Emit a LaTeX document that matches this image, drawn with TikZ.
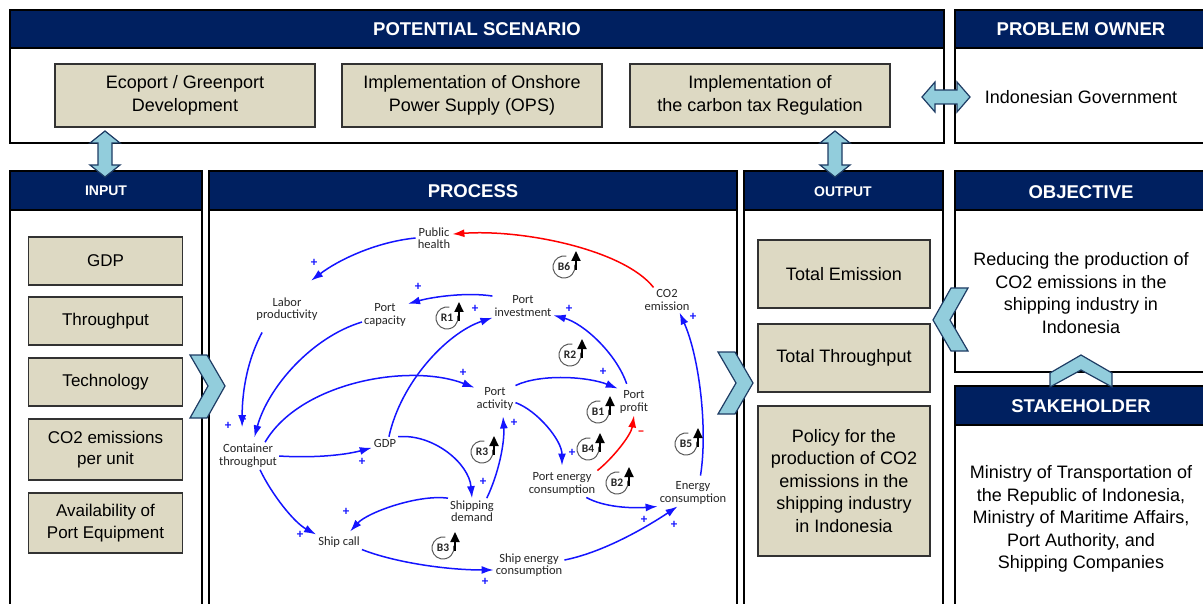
\documentclass[tikz,border=0pt]{standalone}
\usepackage{fontspec}
\setmainfont{Liberation Sans}
\newfontfamily\calib{Carlito}
\usetikzlibrary{arrows.meta,calc}
\definecolor{navy}{RGB}{0,32,96}
\definecolor{tan}{RGB}{221,217,195}
\definecolor{lblue}{RGB}{146,205,220}
\definecolor{dblue}{RGB}{30,60,100}
\definecolor{boxline}{RGB}{50,50,50}
\definecolor{cldblue}{RGB}{20,20,255}
\definecolor{cldred}{RGB}{255,0,0}
\newcommand{\cldloop}[3]{%
  \node[looptxt] (#1) at (#2) {#3};
  \draw[loopring] (#1.center) ++(-78:11) arc[start angle=-78, end angle=-372, radius=11];
  \draw[looparrow] (#1.center) ++(12,3) -- ++(0,-19);
}
\begin{document}
\begin{tikzpicture}[x=1pt,y=-1pt,
  panel/.style={draw=black, line width=1.2pt},
  hdr/.style={fill=navy, draw=black, line width=1.2pt},
  hdrtxt/.style={text=white, font=\bfseries\fontsize{18.5}{22}\selectfont, inner sep=0pt},
  hdrsmall/.style={text=white, font=\bfseries\fontsize{14}{17}\selectfont, inner sep=0pt},
  tbox/.style={draw=boxline, fill=tan, line width=1.2pt, align=center, inner sep=0pt,
    font=\fontsize{18}{22.5}\selectfont},
  ibox/.style={draw=boxline, fill=tan, line width=1.2pt, align=center, inner sep=0pt,
    minimum width=154pt, font=\fontsize{17}{21.5}\selectfont},
  ptxt/.style={align=center, inner sep=0pt, font=\fontsize{18}{22.6}\selectfont},
  deco/.style={fill=lblue, draw=dblue, line width=1.2pt, line join=miter},
  lab/.style={align=center, inner sep=2pt, text=black!85, font=\calib\fontsize{12.5}{12.5}\selectfont},
  cl/.style={draw=cldblue, line width=1.5pt, -{Latex[length=12pt,width=8pt]}},
  clr/.style={draw=cldred, line width=1.5pt, -{Latex[length=12pt,width=8pt]}},
  sgn/.style={text=cldblue, inner sep=0pt, font=\calib\bfseries\fontsize{13}{13}\selectfont},
  sgnr/.style={text=cldred, inner sep=0pt, font=\calib\bfseries\fontsize{14}{14}\selectfont},
  looptxt/.style={inner sep=0pt, text=black!85, font=\calib\bfseries\fontsize{11.5}{12}\selectfont},
  loopring/.style={draw=black!65, line width=1pt},
  looparrow/.style={draw=black, line width=2pt, -{Triangle[length=10pt,width=9pt]}}
]
\useasboundingbox (0,0) rectangle (1203,604);
\fill[white] (0,0) rectangle (1203,604);
\clip (0,0) rectangle (1203,604);

% ---------- panels ----------
\draw[panel] (10,10) rectangle (944,143);
\path[hdr] (10,10) rectangle (944,48);
\node[hdrtxt] (psh) at (477,29) {POTENTIAL SCENARIO};

\draw[panel] (955,10) rectangle (1215,143);
\path[hdr] (955,10) rectangle (1215,48);
\node[hdrtxt] (poh) at (1081,29) {PROBLEM OWNER};

\draw[panel] (10,171) rectangle (202,615);
\path[hdr] (10,171) rectangle (202,210);
\node[hdrsmall] (inh) at (106,191) {INPUT};

\draw[panel] (209,171) rectangle (737,615);
\path[hdr] (209,171) rectangle (737,210);
\node[hdrtxt] (prh) at (473,191) {PROCESS};

\draw[panel] (744,171) rectangle (943,615);
\path[hdr] (744,171) rectangle (943,210);
\node[hdrsmall] (outh) at (843,192) {OUTPUT};

\draw[panel] (955,171) rectangle (1215,372);
\path[hdr] (955,171) rectangle (1215,210);
\node[hdrtxt] (objh) at (1081,192) {OBJECTIVE};

\draw[panel] (955,386) rectangle (1215,615);
\path[hdr] (955,386) rectangle (1215,425);
\node[hdrtxt] (sth) at (1081,406) {STAKEHOLDER};

% ---------- scenario boxes ----------
\node[tbox, minimum width=260pt, minimum height=63pt] (s1) at (185,95.5) {Ecoport / Greenport\\Development};
\node[tbox, minimum width=260pt, minimum height=63pt] (s2) at (472,95.5) {Implementation of Onshore\\Power Supply (OPS)};
\node[tbox, minimum width=260pt, minimum height=63pt] (s3) at (760,95.5) {Implementation of\\the carbon tax Regulation};
\node[ptxt] (gov) at (1081,97) {Indonesian Government};

% ---------- input boxes ----------
\node[ibox, minimum height=48pt] (i1) at (105.5,261) {GDP};
\node[ibox, minimum height=48pt] (i2) at (105.5,321) {Throughput};
\node[ibox, minimum height=48pt] (i3) at (105.5,382) {Technology};
\node[ibox, minimum height=61pt] (i4) at (105.5,449.5) {CO2 emissions\\per unit};
\node[ibox, minimum height=60pt] (i5) at (105.5,523) {Availability of\\Port Equipment};

% ---------- output boxes ----------
\node[tbox, minimum width=172pt, minimum height=68pt] (o1) at (844,274) {Total Emission};
\node[tbox, minimum width=172pt, minimum height=68pt] (o2) at (844,358) {Total Throughput};
\node[tbox, minimum width=172pt, minimum height=150pt] (o3) at (844,481) {Policy for the\\production of CO2\\emissions in the\\shipping industry\\in Indonesia};

% ---------- objective / stakeholder text ----------
\node[ptxt] (objt) at (1081,293) {Reducing the production of\\CO2 emissions in the\\shipping industry in\\Indonesia};
\node[ptxt] (stt) at (1081,519) {Ministry of Transportation of\\the Republic of Indonesia,\\Ministry of Maritime Affairs,\\Port Authority, and\\Shipping Companies};

% ---------- block arrows / chevrons ----------
\path[deco] (105,131) -- (120,143) -- (112,143) -- (112,165) -- (120,165) -- (105,177)
  -- (90,165) -- (98,165) -- (98,143) -- (90,143) -- cycle;
\path[deco] (835,131) -- (850,143) -- (842,143) -- (842,165) -- (850,165) -- (835,177)
  -- (820,165) -- (828,165) -- (828,143) -- (820,143) -- cycle;
\path[deco] (922,97) -- (935,82) -- (935,90) -- (957,90) -- (957,82) -- (970,97)
  -- (957,112) -- (957,104) -- (935,104) -- (935,112) -- cycle;
\path[deco] (190,355) -- (207,355) -- (225,386) -- (207,418) -- (190,418) -- (208,386) -- cycle;
\path[deco] (718,352) -- (735,352) -- (753,383) -- (735,414) -- (718,414) -- (736,383) -- cycle;
\path[deco] (968,288) -- (951,288) -- (933,320) -- (951,351) -- (968,351) -- (950,320) -- cycle;
\path[deco] (1050,387) -- (1050,373) -- (1081,355) -- (1112,373) -- (1112,387) -- (1081,370) -- cycle;

% ---------- causal loop diagram ----------
\node[lab] (ph) at (434,238) {Public\\health};
\node[lab] (lp) at (287,309) {Labor\\productivity};
\node[lab] (pc) at (385,315) {Port\\capacity};
\node[lab] (pi) at (523,306) {Port\\investment};
\node[lab] (co2) at (667,300) {CO2\\emission};
\node[lab] (pa) at (495,399) {Port\\activity};
\node[lab] (pp) at (634,402) {Port\\profit};
\node[lab] (ct) at (248,456) {Container\\throughput};
\node[lab] (gdp) at (385,443) {GDP};
\node[lab] (sd) at (472,511) {Shipping\\demand};
\node[lab] (pec) at (562,484) {Port energy\\consumption};
\node[lab] (ec) at (693,493) {Energy\\consumption};
\node[lab] (sc) at (339,542) {Ship call};
\node[lab] (sec) at (529,565) {Ship energy\\consumption};

\draw[clr] (co2.137) .. controls +(-30,-38) and +(70,-5) .. (ph.12);
\draw[cl, shorten >=24pt] (ph.west) .. controls +(-40,4) and +(46,-35) .. (lp.70);
\draw[cl, shorten <=11pt, shorten >=15pt] (lp.215) .. controls +(-22,41) and +(0,-45) .. (ct.113);
\draw[cl] (pi.162) .. controls +(-25,-4) and +(25,-7) .. (pc.26);
\draw[cl, shorten >=5pt] (pc.197) .. controls +(-50,15) and +(15,-55) .. (ct.70);
\draw[cl] (gdp.58) .. controls +(12,-55) and +(-45,15) .. (pi.201);
\draw[cl, shorten <=5pt] (pp.113) .. controls +(-12,-35) and +(30,8) .. (pi.-17);
\draw[cl, shorten <=4pt] (ec.63) .. controls +(8,-50) and +(20,45) .. (co2.-45);
\draw[cl] (ct.39) .. controls +(35,-60) and +(-65,-25) .. (pa.151);
\draw[cl] (pa.north east) .. controls +(25,-12) and +(-30,-12) .. (pp.north west);
\draw[cl, shorten >=5pt] (pa.-10) .. controls +(22,8) and +(0,-30) .. (pec.north);
\draw[cl, shorten >=4pt] (sd.41) .. controls +(12,-25) and +(2,30) .. (pa.-60);
\draw[clr] (pec.north east) .. controls +(15,-12) and +(-3,20) .. (pp.south);
\draw[cl] (ct.east) .. controls +(30,2) and +(-30,8) .. (gdp.200);
\draw[cl] (gdp.north east) .. controls +(35,-3) and +(-3,-35) .. (sd.north);
\draw[cl] (ct.-49) .. controls +(12,25) and +(-22,-12) .. (sc.north west);
\draw[cl, shorten >=4pt] (sd.north west) .. controls +(-30,-4) and +(20,-22) .. (sc.42);
\draw[cl] (sc.south east) .. controls +(30,12) and +(-50,0) .. (sec.188);
\draw[cl] (sec.8) .. controls +(40,-8) and +(-30,20) .. (ec.221);
\draw[cl] (pec.-29) .. controls +(18,10) and +(-25,2) .. (ec.south west);

% polarity signs
\node[sgn] (g2) at (314,263) {+};
\node[sgn] (g3) at (228,426) {+};
\node[sgn] (g4) at (418,287) {+};
\node[sgn] (g5) at (243,420) {+};
\node[sgn] (g6) at (475,309) {+};
\node[sgn] (g7) at (569,309) {+};
\node[sgn] (g8) at (693,317) {+};
\node[sgn] (g9) at (463,373) {+};
\node[sgn] (g10) at (603,372) {+};
\node[sgn] (g11) at (572,453) {+};
\node[sgn] (g12) at (514,423) {+};
\node[sgnr] (g13) at (641,433) {–};
\node[sgn] (g14) at (362,462) {+};
\node[sgn] (g15) at (483,482) {+};
\node[sgn] (g16) at (300,535) {+};
\node[sgn] (g17) at (346,512) {+};
\node[sgn] (g18) at (485,582) {+};
\node[sgn] (g19) at (674,525) {+};
\node[sgn] (g20) at (644,520) {+};

% loop markers
\cldloop{B6}{564,267}{B6}
\cldloop{R1}{447,318}{R1}
\cldloop{R2}{570,355}{R2}
\cldloop{B1}{598,412}{B1}
\cldloop{B5}{686,444}{B5}
\cldloop{R3}{482,452}{R3}
\cldloop{B4}{588,449}{B4}
\cldloop{B2}{617,483}{B2}
\cldloop{B3}{443,548}{B3}
\end{tikzpicture}
\end{document}
